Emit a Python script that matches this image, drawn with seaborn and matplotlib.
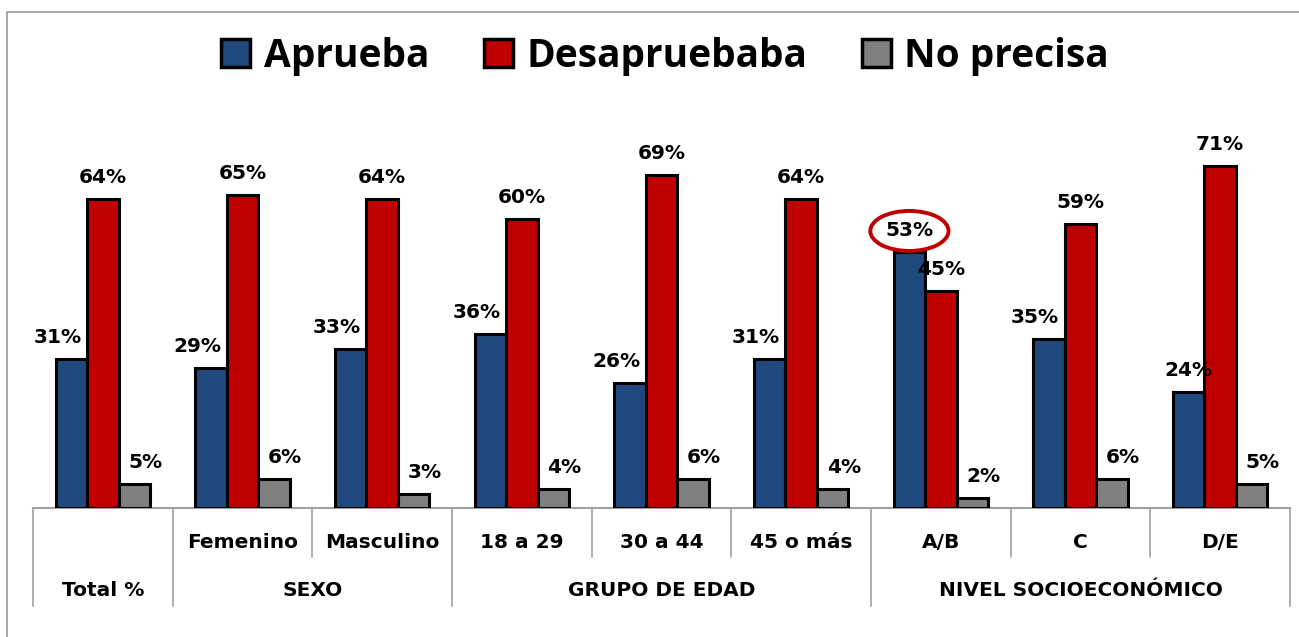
import matplotlib
matplotlib.use('Agg')
import numpy as np
import pandas as pd
import matplotlib.pyplot as plt
import seaborn as sns
from matplotlib.patches import Patch, Ellipse, Rectangle
from matplotlib.transforms import blended_transform_factory, offset_copy

# data
categories = ['Total', 'Femenino', 'Masculino', '18 a 29', '30 a 44', '45 o más', 'A/B', 'C', 'D/E']
row_labels = ['', 'Femenino', 'Masculino', '18 a 29', '30 a 44', '45 o más', 'A/B', 'C', 'D/E']
groups = ['Total %', 'SEXO', 'GRUPO DE EDAD', 'NIVEL SOCIOECONÓMICO']
group_sizes = [1, 2, 3, 3]
series = ['Aprueba', 'Desapruebaba', 'No precisa']
aprueba = [31, 29, 33, 36, 26, 31, 53, 35, 24]
desaprueba = [64, 65, 64, 60, 69, 64, 45, 59, 71]
no_precisa = [5, 6, 3, 4, 6, 4, 2, 6, 5]

colors = ['#1F497D', '#C00000', '#808080']

W, H = 1299, 637
sns.set_style("white")
plt.rcParams['font.family'] = ['DejaVu Sans']
plt.rcParams['text.color'] = 'black'

df = pd.DataFrame({
    'cat': categories * 3,
    'serie': np.repeat(series, len(categories)),
    'valor': aprueba + desaprueba + no_precisa,
})

fig = plt.figure(figsize=(W / 100, H / 100), dpi=100)
ax_left, ax_right = 33 / W, 1290 / W
ax_bottom = (H - 508) / H
ymax = 80
ax_height = 385.7 / H
ax = fig.add_axes([ax_left, ax_bottom, ax_right - ax_left, ax_height])

sns.barplot(data=df, x='cat', y='valor', hue='serie', order=categories,
            hue_order=series, palette=colors, width=0.675, saturation=1,
            edgecolor='black', linewidth=2.2, legend=False, ax=ax)

ax.set_xlim(-0.5, len(categories) - 0.5)
ax.set_ylim(0, ymax)
ax.set_xticks([])
ax.set_yticks([])
ax.set_xlabel('')
ax.set_ylabel('')
for s in ['top', 'left', 'right']:
    ax.spines[s].set_visible(False)
ax.spines['bottom'].set_color('#a0a0a0')
ax.spines['bottom'].set_linewidth(1.5)
ax.spines['bottom'].set_zorder(0)

# value labels
dx = [-10, 0, 8]
centered = {'A/B', 'D/E'}
for si, cont in enumerate(ax.containers):
    for ci, bar in enumerate(cont):
        off = dx[si]
        if si == 0 and categories[ci] in centered:
            off = 0
        x = bar.get_x() + bar.get_width() / 2
        h = bar.get_height()
        ax.annotate(f'{h:.0f}%', xy=(x, h), xytext=(off, 15.5),
                    textcoords='offset points', ha='center', va='center',
                    fontsize=14.5, fontweight='bold', color='black')
        if si == 0 and categories[ci] == 'A/B':
            tr = offset_copy(ax.transData, fig=fig, x=0, y=15.5, units='points')
            ax.add_patch(Ellipse((x, h), width=0.56, height=8.3, transform=tr,
                                 fill=False, edgecolor='#C00000', linewidth=2.8,
                                 clip_on=False, zorder=5))

# two-level category table under the axis
ax_h_px = ax_height * H
trans = blended_transform_factory(ax.transData, ax.transAxes)
minor_end = -49 / ax_h_px
major_end = -98 / ax_h_px
major_edges = [-0.5]
for n in group_sizes:
    major_edges.append(major_edges[-1] + n)
for b in np.arange(-0.5, len(categories), 1.0):
    end = major_end if any(abs(b - m) < 1e-6 for m in major_edges) else minor_end
    ax.plot([b, b], [0, end], color='#a0a0a0', lw=1.2, transform=trans, clip_on=False)

for i, lab in enumerate(row_labels):
    ax.text(i, -35 / ax_h_px, lab, transform=trans, ha='center', va='center',
            fontsize=14.5, fontweight='bold', color='black')
for g, lab in enumerate(groups):
    mid = (major_edges[g] + major_edges[g + 1]) / 2
    ax.text(mid, -82 / ax_h_px, lab, transform=trans, ha='center', va='center',
            fontsize=14.5, fontweight='bold', color='black')

# legend
handles = [Patch(facecolor=c, edgecolor='black', linewidth=2.5, label=s)
           for c, s in zip(colors, series)]
leg = fig.legend(handles=handles, loc='center', bbox_to_anchor=(665 / W, 1 - 56 / H),
                 ncol=3, frameon=False,
                 prop={'family': 'Open Sans', 'weight': 'bold', 'size': 28},
                 handlelength=0.75, handleheight=0.7, handletextpad=0.35,
                 columnspacing=1.4)
for t in leg.get_texts():
    t.set_color('black')

# outer frame
top = 1 - 12 / H
fig.patches.append(Rectangle((7 / W, -0.1), 1.2, top + 0.1, transform=fig.transFigure,
                             fill=False, edgecolor='#999999', linewidth=1.2))

fig.savefig('out.png', dpi=100)
